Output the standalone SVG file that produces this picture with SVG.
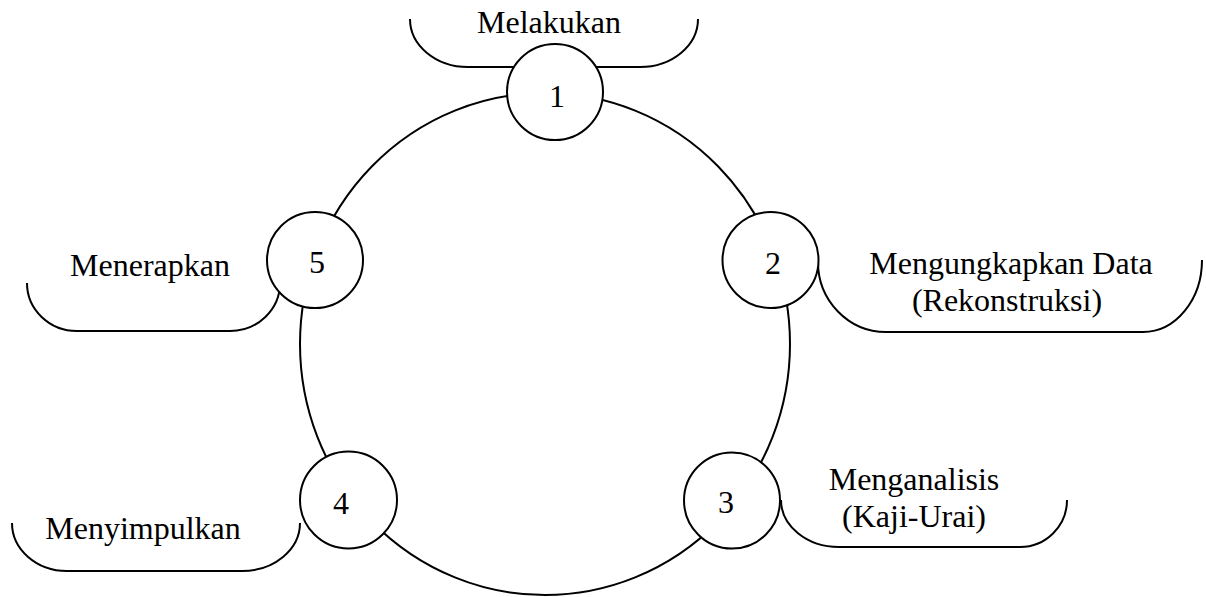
<svg xmlns="http://www.w3.org/2000/svg" width="1206" height="597" viewBox="0 0 1206 597">
<style>
.ln{fill:none;stroke:#000;stroke-width:2}
.nd{fill:#fff;stroke:#000;stroke-width:2}
.t{font-family:"Liberation Serif","Times New Roman",serif;font-size:32px;fill:#000;text-anchor:middle}
</style>
<rect width="1206" height="597" fill="#fff"/>
<g id="connectors">
<ellipse class="ln" cx="545" cy="344" rx="245" ry="251"/>
</g>
<g id="node1">
<path class="ln" d="M410 19 A58 48 0 0 0 468 67 L640 67 A58 48 0 0 0 698 19"/>
<text class="t" x="549" y="33">Melakukan</text>
<circle class="nd" cx="555" cy="92" r="48"/>
<text class="t" x="557" y="107">1</text>
</g>
<g id="node2">
<path class="ln" d="M818 262 A68 70 0 0 0 886 332 L1143 332 A59 72 0 0 0 1202 260"/>
<text class="t" x="1011" y="274">Mengungkapkan Data</text>
<text class="t" x="1007" y="311">(Rekonstruksi)</text>
<circle class="nd" cx="770.5" cy="260" r="48"/>
<text class="t" x="773" y="274">2</text>
</g>
<g id="node3">
<path class="ln" d="M781 500 A58 47 0 0 0 839 547 L1020 547 A47 47 0 0 0 1067 500"/>
<text class="t" x="914" y="490">Menganalisis</text>
<text class="t" x="914" y="527">(Kaji-Urai)</text>
<circle class="nd" cx="732" cy="500.5" r="48"/>
<text class="t" x="726" y="513">3</text>
</g>
<g id="node4">
<path class="ln" d="M12 523 A55 48 0 0 0 67 571 L242 571 A58 48 0 0 0 300 523"/>
<text class="t" x="143" y="539">Menyimpulkan</text>
<circle class="nd" cx="348.5" cy="500" r="48.5"/>
<text class="t" x="341" y="514">4</text>
</g>
<g id="node5">
<path class="ln" d="M27 283 A50 48 0 0 0 77 331 L230 331 A50 48 0 0 0 280 283"/>
<text class="t" x="150" y="276">Menerapkan</text>
<circle class="nd" cx="315" cy="260" r="48"/>
<text class="t" x="317" y="273">5</text>
</g>
</svg>
